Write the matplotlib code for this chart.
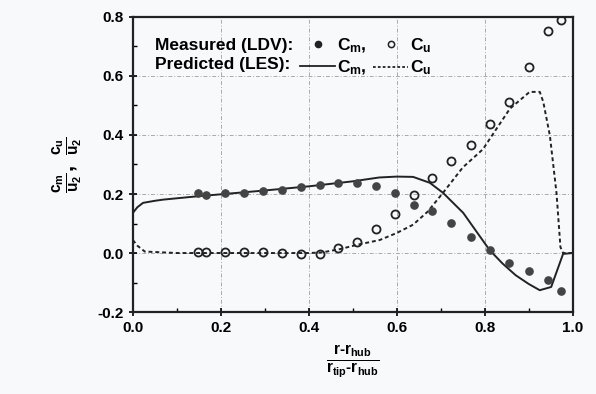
import matplotlib
matplotlib.use("Agg")
import matplotlib.pyplot as plt
from matplotlib.lines import Line2D

plt.rcParams['font.family'] = ['Liberation Sans', 'DejaVu Sans']
plt.rcParams['font.weight'] = 'bold'
plt.rcParams['mathtext.fontset'] = 'custom'
plt.rcParams['mathtext.rm'] = 'Liberation Sans:bold'
plt.rcParams['mathtext.it'] = 'Liberation Sans:bold'
plt.rcParams['mathtext.bf'] = 'Liberation Sans:bold'

# Measured (LDV)
meas_x = [0.148, 0.166, 0.209, 0.252, 0.295, 0.338, 0.382, 0.425, 0.467, 0.51,
          0.553, 0.595, 0.639, 0.681, 0.724, 0.768, 0.811, 0.855, 0.9, 0.944, 0.974]
meas_cm = [0.202, 0.198, 0.202, 0.204, 0.21, 0.215, 0.225, 0.232, 0.236, 0.236,
           0.227, 0.202, 0.164, 0.141, 0.101, 0.056, 0.01, -0.033, -0.06, -0.092, -0.13]
meas_cu = [0.005, 0.002, 0.005, 0.005, 0.005, 0.0, -0.002, -0.002, 0.016, 0.039,
           0.081, 0.132, 0.196, 0.253, 0.312, 0.367, 0.437, 0.512, 0.631, 0.753, 0.789]

# Predicted (LES)
les_cm_x = [0.0, 0.01, 0.023, 0.05, 0.069, 0.145, 0.2, 0.3, 0.4, 0.5, 0.56, 0.6, 0.637,
            0.675, 0.705, 0.751, 0.78, 0.811, 0.84, 0.87, 0.9, 0.925, 0.951, 0.978, 1.0]
les_cm = [0.136, 0.155, 0.17, 0.177, 0.181, 0.192, 0.199, 0.212, 0.226, 0.243, 0.256,
          0.259, 0.258, 0.238, 0.204, 0.136, 0.075, 0.01, -0.035, -0.075, -0.105, -0.126,
          -0.115, -0.003, 0.0]

les_cu_x = [0.0, 0.01, 0.027, 0.1, 0.2, 0.3, 0.4, 0.43, 0.47, 0.51, 0.561, 0.6, 0.637,
            0.67, 0.705, 0.75, 0.796, 0.811, 0.857, 0.902, 0.925, 0.933, 0.948, 0.963,
            0.972, 0.978, 1.0]
les_cu = [0.044, 0.025, 0.005, 0.0, 0.0, 0.0, 0.0, 0.002, 0.013, 0.028, 0.044, 0.068,
          0.096, 0.14, 0.204, 0.29, 0.352, 0.386, 0.489, 0.546, 0.546, 0.512, 0.398,
          0.204, 0.02, 0.0, 0.0]

x_ticks = [0.0, 0.2, 0.4, 0.6, 0.8, 1.0]
y_ticks = [-0.2, 0.0, 0.2, 0.4, 0.6, 0.8]

fig = plt.figure(figsize=(5.96, 3.94), dpi=100)
fig.patch.set_facecolor('#f7f9fa')
ax = fig.add_axes([0.223, 0.208, 0.738, 0.749])
ax.set_facecolor('#f7f9fa')

ax.grid(True, which='major', color='#aaaaaa', linestyle=(0, (4, 2, 1, 2)), linewidth=0.7)

ax.plot(les_cm_x, les_cm, color='#222222', linewidth=1.4, linestyle='-')
ax.plot(les_cu_x, les_cu, color='#222222', linewidth=1.4, linestyle=(0, (2.0, 1.5)))
ax.plot(meas_x, meas_cm, linestyle='none', marker='o', markersize=5.2,
        markerfacecolor='#444444', markeredgecolor='#444444')
ax.plot(meas_x, meas_cu, linestyle='none', marker='o', markersize=5.8,
        markerfacecolor='none', markeredgecolor='#222222', markeredgewidth=1.3)

ax.set_xlim(0.0, 1.0)
ax.set_ylim(-0.2, 0.8)
ax.set_xticks(x_ticks)
ax.set_yticks(y_ticks)
ax.set_xticklabels([f'{v:.1f}' for v in x_ticks])
ax.set_yticklabels([f'{v:.1f}' for v in y_ticks])
ax.set_xticks([0.1, 0.3, 0.5, 0.7, 0.9], minor=True)
ax.set_yticks([-0.1, 0.1, 0.3, 0.5, 0.7], minor=True)
ax.tick_params(axis='both', which='major', labelsize=11, direction='inout', length=6, width=1.2)
ax.tick_params(axis='both', which='minor', direction='in', length=3, width=1)
for lab in ax.get_xticklabels() + ax.get_yticklabels():
    lab.set_fontweight('bold')
for sp in ax.spines.values():
    sp.set_linewidth(1.6)
    sp.set_color('#222222')

ax.set_xlabel(r'$\frac{r\text{-}r_{hub}}{r_{tip}\text{-}r_{hub}}$', fontsize=16, labelpad=6)
ax.set_ylabel(r'$\frac{c_m}{u_2},\ \frac{c_u}{u_2}$', fontsize=16, labelpad=10)

blank = Line2D([], [], linestyle='none', marker=None)
h_cm_meas = Line2D([], [], linestyle='none', marker='o', markersize=4.5,
                   markerfacecolor='#222222', markeredgecolor='#222222')
h_cu_meas = Line2D([], [], linestyle='none', marker='o', markersize=4.5,
                   markerfacecolor='none', markeredgecolor='#222222', markeredgewidth=1.1)
h_cm_les = Line2D([], [], color='#222222', linewidth=1.3)
h_cu_les = Line2D([], [], color='#222222', linewidth=1.3, linestyle=(0, (1.5, 1.2)))
handles = [blank, blank, h_cm_meas, h_cm_les, h_cu_meas, h_cu_les]
labels = ['Measured (LDV):', 'Predicted (LES):', r'$C_m$,', r'$C_m$,', r'$C_u$', r'$C_u$']
leg = ax.legend(handles, labels, ncol=3, loc='upper left', bbox_to_anchor=(-0.06, 0.975),
                frameon=False, fontsize=12.5, handlelength=2.0, handletextpad=0.1,
                columnspacing=0.4, labelspacing=0.2, borderaxespad=0.3)
for t in leg.get_texts():
    t.set_fontweight('bold')

fig.savefig('out.png', dpi=100, facecolor=fig.get_facecolor())
